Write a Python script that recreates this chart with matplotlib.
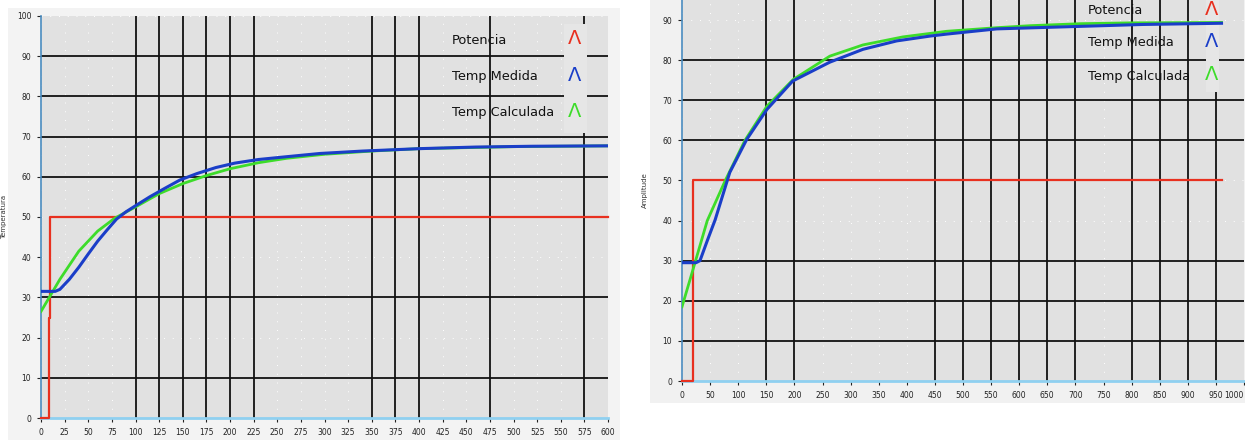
import matplotlib
matplotlib.use("Agg")
import matplotlib.pyplot as plt
from matplotlib.patches import Rectangle

# ---------------- data ----------------
# Left chart (time 0..600)
left_red_t = [0, 8.5, 10, 600]
left_red_v = [0, 25, 50, 50]

left_blue_t = [0, 15, 20, 30, 40, 50, 60, 70, 80, 90, 100, 115, 130, 147, 165, 185,
               205, 230, 260, 295, 340, 400, 460, 520, 600]
left_blue_v = [31.5, 31.5, 32, 34.5, 37.5, 40.8, 44, 46.8, 49.5, 51.3, 52.8, 55, 57, 59.2,
               60.8, 62.3, 63.4, 64.3, 65, 65.8, 66.4, 67, 67.4, 67.6, 67.7]

left_green_t = [0, 20, 40, 60, 78, 100, 125, 150, 175, 200, 230, 260, 300, 350, 400, 500, 600]
left_green_v = [26.5, 34.5, 41.5, 46.5, 49.7, 52.5, 55.8, 58.3, 60.3, 62, 63.5, 64.6,
                65.6, 66.4, 67, 67.5, 67.7]

# Right chart (time 0..1000)
right_red_t = [0, 20, 960]
right_red_v = [0, 50, 50]

right_blue_t = [0, 25, 32, 45, 59, 85, 115, 151, 197, 263, 322, 382, 441, 471, 560, 726,
                820, 960]
right_blue_v = [29.5, 29.5, 30, 35, 40.2, 52, 60.2, 67.7, 74.8, 79.5, 82.7, 84.8, 86,
                86.5, 87.8, 88.5, 88.9, 89.2]

right_green_t = [0, 20, 45, 77, 112, 151, 198, 263, 322, 393, 471, 560, 620, 710, 800, 960]
right_green_v = [18.5, 28, 40, 50, 60, 68.5, 75.2, 81, 83.8, 85.8, 87.2, 88.1, 88.6,
                 89.1, 89.3, 89.4]

legend_labels = ["Potencia", "Temp Medida", "Temp Calculada"]

left_xticks = list(range(0, 601, 25))
left_yticks = list(range(0, 101, 10))
left_vgrid = [100, 125, 150, 175, 200, 225, 350, 375, 400, 475, 575]
left_hgrid = [10, 30, 60, 70, 80, 90]

right_xticks = list(range(0, 1001, 50))
right_yticks = list(range(0, 91, 10))
right_vgrid = [150, 200, 450, 500, 550, 600, 650, 700, 800, 850, 900, 950]
right_hgrid = [10, 20, 30, 60, 70, 80]

# ---------------- styling ----------------
RED = "#e8301f"
BLUE = "#1a3ec8"
GREEN = "#3ddc2a"
BG = "#e1e1e1"
W, H = 1245, 440

fig = plt.figure(figsize=(W / 100, H / 100), dpi=100, facecolor="white")

# panel backgrounds (behind the axes)
fig.patches.append(Rectangle((8 / W, 0), 612 / W, 432 / H, transform=fig.transFigure,
                             facecolor="#f3f3f3", edgecolor="none", zorder=-10))
fig.patches.append(Rectangle((650 / W, (H - 403) / H), 595 / W, 403 / H,
                             transform=fig.transFigure,
                             facecolor="#f1f1f1", edgecolor="none", zorder=-10))


def px_axes(x0, x1, ytop, ybot):
    ax = fig.add_axes([x0 / W, (H - ybot) / H, (x1 - x0) / W, (ybot - ytop) / H])
    ax.set_zorder(1)
    return ax


def style(ax, xticks, yticks, vgrid, hgrid, xlim, ylim, ylabel, ylabel_x):
    ax.set_facecolor(BG)
    ax.set_xlim(*xlim)
    ax.set_ylim(*ylim)
    ax.set_xticks(xticks)
    ax.set_yticks(yticks)
    ax.tick_params(labelsize=5.5, length=3, width=0.8, colors="#222222", pad=4)
    for s in ["top", "right"]:
        ax.spines[s].set_visible(False)
    ax.spines["left"].set_color("#4a8cc0")
    ax.spines["left"].set_linewidth(1.2)
    ax.spines["bottom"].set_color("#8fd0f0")
    ax.spines["bottom"].set_linewidth(2)
    # faint dotted background grid
    for xv in xticks:
        ax.axvline(xv, color="white", lw=0.7, ls=(0, (1, 8)), zorder=0.5)
    for yv in yticks:
        ax.axhline(yv, color="white", lw=0.7, ls=(0, (1, 8)), zorder=0.5)
    for xv in vgrid:
        ax.axvline(xv, color="#111111", lw=1.3, zorder=1)
    for yv in hgrid:
        ax.axhline(yv, color="#111111", lw=1.3, zorder=1)
    ax.set_ylabel(ylabel, fontsize=5, color="#333333")
    ax.yaxis.set_label_coords(ylabel_x, 0.5)


def legend(ax, tx, ty_list, mx, box):
    bx0, by0, bx1, by1 = box
    ax.add_patch(Rectangle((bx0, by0), bx1 - bx0, by1 - by0, facecolor="#e6e6e6",
                           edgecolor="none", zorder=2))
    for lab, ty, col in zip(legend_labels, ty_list, [RED, BLUE, GREEN]):
        ax.text(tx, ty, lab, fontsize=9.3, family="DejaVu Sans", color="#111111",
                va="center", ha="left", zorder=5)
        ax.text(mx, ty + 0.3, "Λ", fontsize=14, color=col, va="center", ha="center",
                zorder=5, family="DejaVu Sans")


# ---------------- left chart ----------------
ax1 = px_axes(41, 608, 16, 418)
style(ax1, left_xticks, left_yticks, left_vgrid, left_hgrid, (0, 600), (0, 100),
      "Temperatura", -0.06)
ax1.plot(left_red_t, left_red_v, color=RED, lw=1.6, drawstyle="steps-post", zorder=3,
         clip_on=False)
ax1.plot(left_green_t, left_green_v, color=GREEN, lw=2.0, zorder=3)
ax1.plot(left_blue_t, left_blue_v, color=BLUE, lw=2.2, zorder=4)
legend(ax1, 435, [94, 85, 76], 565, (553, 71, 578, 98))

# ---------------- right chart ----------------
ax2 = px_axes(682, 1244, 0, 381)
style(ax2, right_xticks, right_yticks, right_vgrid, right_hgrid, (0, 1000), (0, 95),
      "Amplitude", -0.06)
ax2.plot(right_red_t, right_red_v, color=RED, lw=1.6, drawstyle="steps-post", zorder=3,
         clip_on=False)
ax2.plot(right_green_t, right_green_v, color=GREEN, lw=2.0, zorder=3)
ax2.plot(right_blue_t, right_blue_v, color=BLUE, lw=2.2, zorder=4)
legend(ax2, 722, [92.3, 84.3, 76], 943, (932, 72, 955, 95))
xl = ax2.get_xticklabels()
xl[-1].set_ha("right")

fig.savefig("out.png", dpi=100, facecolor=fig.get_facecolor())
